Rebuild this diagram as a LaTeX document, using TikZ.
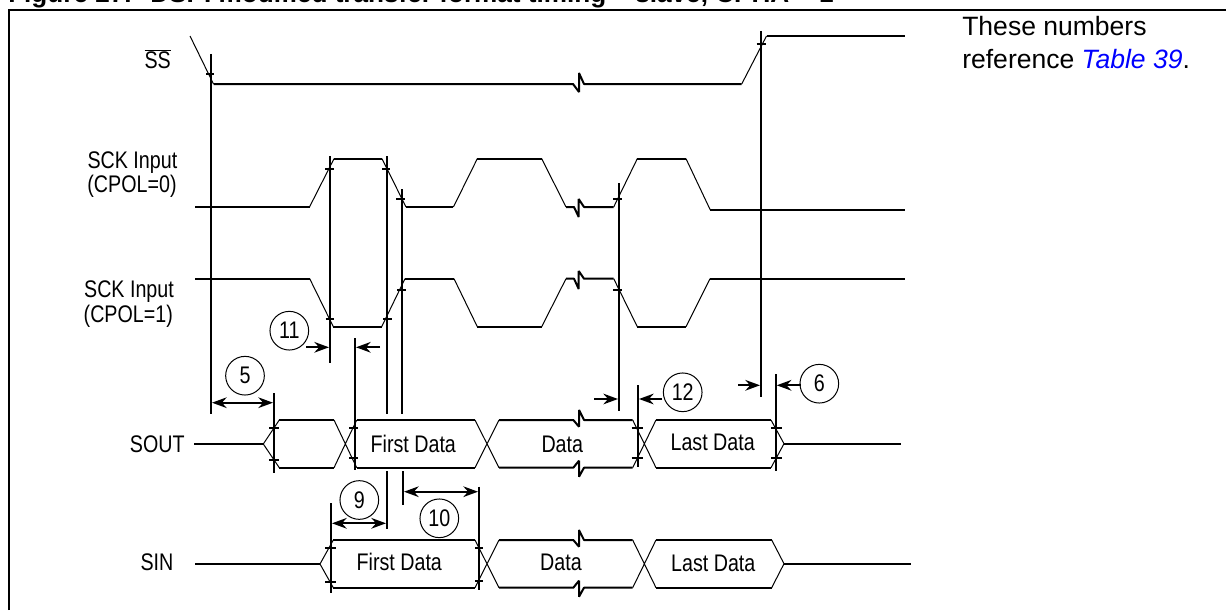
\documentclass[tikz,border=0pt]{standalone}
\usepackage{fontspec}
\setmainfont{Liberation Sans}
\newfontfamily\narrowfont[FakeStretch=0.82]{Liberation Sans}
\usetikzlibrary{arrows.meta}

\begin{document}
\begin{tikzpicture}[%
    x=0.75pt,
    y=-0.75pt,
    >={Stealth[length=11pt,width=8pt]},
    sig/.style={line width=1.5pt,line join=bevel},
    ramp/.style={line width=0.75pt},
    mark line/.style={line width=1.5pt},
    span/.style={line width=1.5pt,<->},
    label/.style={font=\narrowfont\fontsize{18}{20}\selectfont,inner sep=0pt},
    num/.style={circle,draw,line width=0.75pt,minimum size=29pt,inner sep=0pt,
      font=\narrowfont\fontsize{18}{20}\selectfont}
  ]
    \useasboundingbox (0,0) rectangle (1226,610);

    % frame and heading
    \node[anchor=base west,inner sep=0pt,font=\bfseries\fontsize{19.6}{22}\selectfont] (title) at (8,2.5)
      {Figure 27.\hspace{14pt}DSPI modified transfer format timing -- slave, CPHA = 1};
    \draw[line width=1.5pt] (8.7,610) -- (8.7,10) -- (1226,10);
    \node[anchor=north west,inner sep=0pt,align=left,font=\fontsize{19.9}{24.4}\selectfont] (note) at (962,16)
      {These numbers\\reference \textcolor{blue}{\itshape Table 39}.};

    % signal names
    \node[label] (ss) at (157.7,59) {$\overline{\mbox{SS}}$};
    \node[label] (sck0a) at (132.4,162.7) {SCK Input};
    \node[label] (sck0b) at (132,186.7) {(CPOL=0)};
    \node[label] (sck1a) at (129,291.7) {SCK Input};
    \node[label] (sck1b) at (128.3,316.7) {(CPOL=1)};
    \node[label] (sout) at (157.3,444.3) {SOUT};
    \node[label] (sin) at (157,562.3) {SIN};

    % SS
    \draw[ramp] (190,36) -- (213.5,84);
    \draw[sig] (213.5,84) -- (573,84) -- (579,92) -- (579,73) -- (584,84) -- (741.7,84);
    \draw[ramp] (741.7,84) -- (766.5,36);
    \draw[sig] (766.5,36) -- (905,36);

    % SCK, CPOL=0
    \draw[sig] (195,207) -- (309.5,207);
    \draw[ramp] (309.5,207) -- (334,158.7);
    \draw[sig] (334,158.7) -- (382,158.7);
    \draw[ramp] (382,158.7) -- (406,207);
    \draw[sig] (406,207) -- (453.4,207);
    \draw[ramp] (453.4,207) -- (477.3,158.7);
    \draw[sig] (477.3,158.7) -- (541.7,158.7);
    \draw[ramp] (541.7,158.7) -- (566,207);
    \draw[sig] (566,207) -- (574,207) -- (578.7,217) -- (578.7,199) -- (584,207) -- (613.7,207);
    \draw[ramp] (613.7,207) -- (637.3,158.7);
    \draw[sig] (637.3,158.7) -- (686,158.7);
    \draw[ramp] (686,158.7) -- (710.3,210);
    \draw[sig] (710.3,210) -- (905,210);

    % SCK, CPOL=1
    \draw[sig] (195,278.7) -- (309.7,278.7);
    \draw[ramp] (309.7,278.7) -- (333.3,326.7);
    \draw[sig] (333.3,326.7) -- (381.7,326.7);
    \draw[ramp] (381.7,326.7) -- (405,278.7);
    \draw[sig] (405,278.7) -- (454,278.7);
    \draw[ramp] (454,278.7) -- (477.3,326.7);
    \draw[sig] (477.3,326.7) -- (541.7,326.7);
    \draw[ramp] (541.7,326.7) -- (566,278.7);
    \draw[sig] (566,278.7) -- (574,278.7) -- (578.7,289) -- (578.7,271) -- (584,278.7) -- (613.7,278.7);
    \draw[ramp] (613.7,278.7) -- (637.3,326.7);
    \draw[sig] (637.3,326.7) -- (686,326.7);
    \draw[ramp] (686,326.7) -- (710,278.7);
    \draw[sig] (710,278.7) -- (905,278.7);

    % SOUT
    \draw[sig] (194,444) -- (263.3,444);
    \draw[ramp] (279.3,420) -- (263.3,444) -- (279.3,467.7);
    \draw[sig] (279.3,420) -- (334,420) (279.3,467.7) -- (334,467.7);
    \draw[ramp] (334,420) -- (356.7,467.7) (334,467.7) -- (356.7,420);
    \draw[sig] (356.7,420) -- (475,420) (356.7,467.7) -- (475,467.7);
    \draw[ramp] (475,420) -- (499,467.7) (475,467.7) -- (499,420);
    \draw[sig] (499,420) -- (573.3,420) -- (579,426.7) -- (579,410) -- (584,420) -- (632.7,420);
    \draw[sig] (499,467.7) -- (573.3,467.7) -- (579,460.7) -- (579,476.7) -- (584,467.7) -- (632.7,467.7);
    \draw[ramp] (632.7,420) -- (656,467.7) (632.7,467.7) -- (656,420);
    \draw[sig] (656,420) -- (771,420) (656,467.7) -- (771,467.7);
    \draw[ramp] (771,420) -- (784,443.7) -- (771,467.7);
    \draw[sig] (784,443.7) -- (900.7,443.7);
    \node[label] (sout1) at (413.3,444.3) {First Data};
    \node[label] (sout2) at (562.3,444.3) {Data};
    \node[label] (sout3) at (712.7,442.3) {Last Data};

    % SIN
    \draw[sig] (195,564) -- (320,564);
    \draw[ramp] (333.3,540) -- (320,564) -- (333.3,587.7);
    \draw[sig] (333.3,540) -- (475,540) (333.3,587.7) -- (475,587.7);
    \draw[ramp] (475,540) -- (499,587.7) (475,587.7) -- (499,540);
    \draw[sig] (499,540) -- (573.3,540) -- (579,546.7) -- (579,530) -- (584,540) -- (632.7,540);
    \draw[sig] (499,587.7) -- (573.3,587.7) -- (579,580.7) -- (579,596.7) -- (584,587.7) -- (632.7,587.7);
    \draw[ramp] (632.7,540) -- (656,587.7) (632.7,587.7) -- (656,540);
    \draw[sig] (656,540) -- (771.7,540) (656,587.7) -- (771.7,587.7);
    \draw[ramp] (771.7,540) -- (784,563.7) -- (771.7,587.7);
    \draw[sig] (784,563.7) -- (910.7,563.7);
    \node[label] (sin1) at (399.3,561.7) {First Data};
    \node[label] (sin2) at (561,562.3) {Data};
    \node[label] (sin3) at (713.3,563.3) {Last Data};

    % reference lines with their ticks
    \draw[mark line] (211,54) -- (211,414) (206,74) -- (214,74);
    \draw[mark line] (329.7,156) -- (329.7,363.3) (325,169) -- (334,169) (325.7,318.7) -- (334,318.7);
    \draw[mark line] (387,156) -- (387,414) (382,169) -- (390,169) (383.3,318.7) -- (391.7,318.7);
    \draw[mark line] (387,471) -- (387,529.3);
    \draw[mark line] (401.7,189) -- (401.7,414) (396,199) -- (405,199) (397,290) -- (406,290);
    \draw[mark line] (403,471) -- (403,505);
    \draw[mark line] (355,338.3) -- (355,470) (349.3,427.7) -- (357.7,427.7) (349.3,458.3) -- (357.7,458.3);
    \draw[mark line] (619,183.3) -- (619,411) (613,199) -- (621.7,199) (613,290) -- (621.7,290);
    \draw[mark line] (761,31) -- (761,396.7) (756.5,43.7) -- (765.7,43.7);
    \draw[mark line] (274,393.3) -- (274,473.3) (269,428.3) -- (279,428.3) (269,460) -- (279,460);
    \draw[mark line] (638,385) -- (638,466.7) (631.7,427.7) -- (642.7,427.7) (631.7,457.7) -- (642.7,457.7);
    \draw[mark line] (775.7,374) -- (775.7,470.7) (771,427.7) -- (781.7,427.7) (771,457.7) -- (781.7,457.7);
    \draw[mark line] (479,486.7) -- (479,590) (475,548) -- (483.3,548) (475,580.7) -- (483.3,580.7);
    \draw[mark line] (331,503.3) -- (331,593.3) (325,548) -- (335.7,548) (325,582.3) -- (335.7,582.3);

    % timing numbers
    \node[num] (t5) at (245,375.7) {5};
    \node[num] (t6) at (819.3,383.7) {6};
    \node[num] (t9) at (359.3,500) {9};
    \node[num] (t10) at (439.3,518.3) {10};
    \node[num] (t11) at (289.3,330.7) {11};
    \node[num] (t12) at (682.7,392.3) {12};

    \coordinate (a5l) at (212,402.7);
    \coordinate (a5r) at (273,402.7);
    \coordinate (a9l) at (332,523.3);
    \coordinate (a9r) at (386,523.3);
    \coordinate (a10l) at (404,491.7);
    \coordinate (a10r) at (478,491.7);
    \coordinate (a11a) at (306,347.3);
    \coordinate (a11b) at (329,347.3);
    \coordinate (a11c) at (380,347.3);
    \coordinate (a11d) at (356,347.3);
    \coordinate (a12a) at (594,399);
    \coordinate (a12b) at (618,399);
    \coordinate (a12c) at (662,399);
    \coordinate (a12d) at (639,399);
    \coordinate (a6a) at (738.3,385.3);
    \coordinate (a6b) at (760,385.3);
    \coordinate (a6c) at (800.7,385.3);
    \coordinate (a6d) at (776.7,385.3);

    \draw[span] (a5l) -- (a5r);
    \draw[span] (a9l) -- (a9r);
    \draw[span] (a10l) -- (a10r);
    \draw[sig,->] (a11a) -- (a11b);
    \draw[sig,->] (a11c) -- (a11d);
    \draw[sig,->] (a12a) -- (a12b);
    \draw[sig,->] (a12c) -- (a12d);
    \draw[sig,->] (a6a) -- (a6b);
    \draw[sig,->] (a6c) -- (a6d);
  \end{tikzpicture}
\end{document}
